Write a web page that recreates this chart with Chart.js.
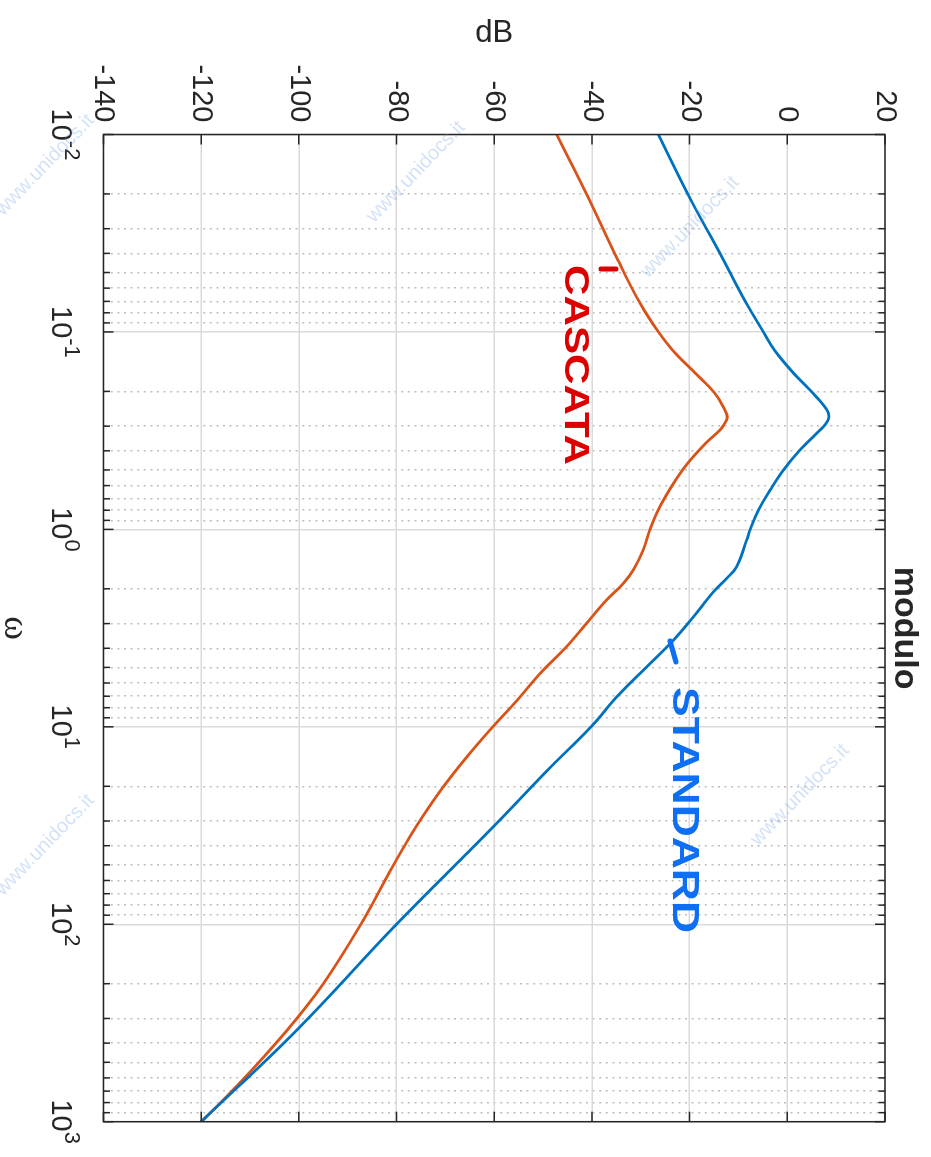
<!DOCTYPE html>
<html>
<head>
<meta charset="utf-8">
<title>modulo</title>
<script src="https://cdn.jsdelivr.net/npm/chart.js@4/dist/chart.umd.min.js"></script>
<style>
  html, body { margin: 0; padding: 0; background: #fff; overflow: hidden; }
  /* the matlab figure is drawn landscape and turned a quarter clockwise */
  #wrap { position: absolute; left: 0; top: 0; width: 1157px; height: 931px;
          transform-origin: 0 0; transform: translateX(931px) rotate(90deg); }
</style>
</head>
<body>
<div id="wrap"><canvas id="bode" width="1157" height="931"></canvas></div>
<script>
// standard loop (blue)
const omegaStd = [0.01, 0.02, 0.04, 0.07, 0.1, 0.124, 0.162, 0.205, 0.248, 0.271, 0.296, 0.314, 0.396, 0.501, 0.632, 0.798,
  1.0, 1.13, 1.55, 1.77, 2.07, 2.77, 3.64, 4.97, 7.05, 10, 16.6, 32.1, 100, 337, 1000];
const dbStd = [-26.4, -20.4, -13.8, -8.6, -4.9, -2.6, 1.3, 5.3, 8.1, 8.5, 7.7, 6.7, 2.6, -0.8, -3.5, -5.9,
  -7.6, -8.3, -10.4, -12.4, -15.1, -19.2, -23.3, -28.8, -34.9, -40.2, -49.1, -60.2, -80.0, -100.1, -120];

// cascata (orange)
const omegaCas = [0.01, 0.0215, 0.0432, 0.0663, 0.0905, 0.1236, 0.162, 0.205, 0.248, 0.271, 0.296, 0.314, 0.366, 0.463, 0.585, 0.769,
  1.0, 1.27, 1.6, 1.88, 2.28, 2.99, 3.93, 5.36, 7.33, 10, 14.2, 20.1, 28.6, 39, 55.3, 78.5, 100, 152, 200, 262, 344, 470, 640, 809, 1000];
const dbCas = [-47.2, -40.5, -34.7, -30.9, -27.6, -23.5, -18.8, -14.8, -12.8, -12.3, -13.0, -13.8, -16.7, -20.4, -23.3, -26.1,
  -28.1, -29.5, -31.5, -33.6, -37.0, -41.1, -45.2, -50.6, -55.3, -60.3, -65.6, -70.4, -74.7, -78.1, -81.6, -84.9, -87.3, -91.8, -95.0, -98.5, -102.4, -107.2, -112.2, -116.2, -120];

// axes
const decades = [-2, -1, 0, 1, 2, 3];
const omegaExp = ['-2', '-1', '0', '1', '2', '3'];
const dbTicks = [-140, -120, -100, -80, -60, -40, -20, 0, 20];

const sans = '"Liberation Sans", Arial, Helvetica, sans-serif';
const axisColor = '#262626';

function isMajor(v) {
  const l = Math.log10(v);
  return Math.abs(l - Math.round(l)) < 1e-9;
}

// 1..9 x 10^n for the log grid
const omegaGrid = [];
decades.forEach((d, i) => {
  for (let m = 1; m <= 9; m++) {
    if (i == decades.length - 1 && m > 1) break;
    omegaGrid.push(+(m * Math.pow(10, d)).toPrecision(6));
  }
});

function handText(ctx, txt, left, base, width, font, color) {
  ctx.save();
  ctx.font = font;
  ctx.fillStyle = color;
  ctx.textAlign = 'left';
  ctx.textBaseline = 'alphabetic';
  const w = ctx.measureText(txt).width;
  ctx.translate(left, base);
  ctx.scale(width / w, 1);
  ctx.fillText(txt, 0, 0);
  ctx.restore();
}

function stroke(ctx, x1, y1, x2, y2, color) {
  ctx.save();
  ctx.strokeStyle = color;
  ctx.lineWidth = 5;
  ctx.lineCap = 'round';
  ctx.beginPath();
  ctx.moveTo(x1, y1);
  ctx.lineTo(x2, y2);
  ctx.stroke();
  ctx.restore();
}

const decor = {
  id: 'decor',
  afterDraw(chart) {
    const { ctx, chartArea: a, scales: { x, y } } = chart;
    ctx.save();

    // box + inward ticks
    ctx.strokeStyle = axisColor;
    ctx.lineWidth = 1.5;
    ctx.strokeRect(a.left, a.top, a.right - a.left, a.bottom - a.top);
    ctx.beginPath();
    omegaGrid.forEach(v => {
      const px = x.getPixelForValue(v);
      const len = isMajor(v) ? 10 : 6.5;
      ctx.moveTo(px, a.bottom); ctx.lineTo(px, a.bottom - len);
      ctx.moveTo(px, a.top); ctx.lineTo(px, a.top + len);
    });
    dbTicks.forEach(v => {
      const py = y.getPixelForValue(v);
      ctx.moveTo(a.left, py); ctx.lineTo(a.left + 10, py);
      ctx.moveTo(a.right, py); ctx.lineTo(a.right - 10, py);
    });
    ctx.stroke();

    // 10^n labels
    ctx.fillStyle = axisColor;
    ctx.textAlign = 'left';
    ctx.textBaseline = 'alphabetic';
    decades.forEach((d, i) => {
      const px = x.getPixelForValue(Math.pow(10, d));
      ctx.font = '29px ' + sans;
      const wb = ctx.measureText('10').width;
      ctx.font = '22px ' + sans;
      const we = ctx.measureText(omegaExp[i]).width;
      const x0 = px - (wb + we) / 2;
      ctx.font = '29px ' + sans;
      ctx.fillText('10', x0, 879);
      ctx.font = '22px ' + sans;
      ctx.fillText(omegaExp[i], x0 + wb, 866);
    });

    // title
    ctx.font = 'bold 34px ' + sans;
    ctx.textAlign = 'center';
    ctx.fillText('modulo', (a.left + a.right) / 2, 36);
    ctx.restore();

    // handwritten notes
    handText(ctx, 'CASCATA', 265, 366, 200, 'bold 35px ' + sans, '#dc0000');
    stroke(ctx, 269, 315, 269, 330, '#dc0000');
    handText(ctx, 'STANDARD', 687, 258, 246, 'bold 37px ' + sans, '#0f6ff2');
    stroke(ctx, 641, 261, 662, 255, '#0f6ff2');

    // watermark
    ctx.save();
    ctx.fillStyle = 'rgba(110, 160, 225, 0.3)';
    ctx.font = '20px ' + sans;
    ctx.textAlign = 'center';
    ctx.textBaseline = 'middle';
    [[227, 241], [165, 886], [845, 886], [795, 131], [172, 515]].forEach(p => {
      ctx.save();
      ctx.translate(p[0], p[1]);
      ctx.rotate(-136 * Math.PI / 180);
      ctx.fillText('www.unidocs.it', 0, 0);
      ctx.restore();
    });
    ctx.restore();
  }
};

new Chart(document.getElementById('bode'), {
  type: 'line',
  data: {
    datasets: [
      {
        label: 'standard',
        data: omegaStd.map((w, i) => ({ x: w, y: dbStd[i] })),
        borderColor: '#0072BD',
        borderWidth: 2.8,
        pointRadius: 0,
        tension: 0.4
      },
      {
        label: 'cascata',
        data: omegaCas.map((w, i) => ({ x: w, y: dbCas[i] })),
        borderColor: '#D95319',
        borderWidth: 2.8,
        pointRadius: 0,
        tension: 0.4
      }
    ]
  },
  options: {
    responsive: false,
    animation: false,
    devicePixelRatio: 1,
    layout: { padding: { left: 0, right: 35.3, top: 46, bottom: 0 } },
    plugins: { legend: { display: false }, tooltip: { enabled: false } },
    scales: {
      x: {
        type: 'logarithmic',
        position: 'bottom',
        min: 0.01,
        max: 1000,
        afterBuildTicks: s => { s.ticks = omegaGrid.map(v => ({ value: v, major: isMajor(v) })); },
        afterFit: s => { s.height = 103.5; },
        ticks: { display: false, autoSkip: false },
        grid: {
          color: c => (c.tick && !isMajor(c.tick.value)) ? '#bdbdbd' : '#dadada',
          lineWidth: 1.5,
          drawTicks: false
        },
        border: { display: false, dash: c => (c.tick && !isMajor(c.tick.value)) ? [2, 4.6] : [] },
        title: {
          display: true, text: 'ω', color: axisColor,
          font: { family: '"Liberation Serif", serif', size: 36, lineHeight: 0.8 },
          padding: { top: 0.6, bottom: 0 }
        }
      },
      y: {
        min: -140,
        max: 20,
        position: 'left',
        afterBuildTicks: s => { s.ticks = dbTicks.map(v => ({ value: v })); },
        afterFit: s => { s.width = 134.5; },
        ticks: { color: axisColor, font: { family: sans, size: 29 }, padding: 12, autoSkip: false },
        grid: { color: '#dadada', lineWidth: 1.5, drawTicks: false },
        border: { display: false },
        title: {
          display: true, text: 'dB', color: axisColor,
          font: { family: sans, size: 31 },
          padding: { top: 14.4, bottom: 0 }
        }
      }
    }
  },
  plugins: [decor]
});
</script>
</body>
</html>
